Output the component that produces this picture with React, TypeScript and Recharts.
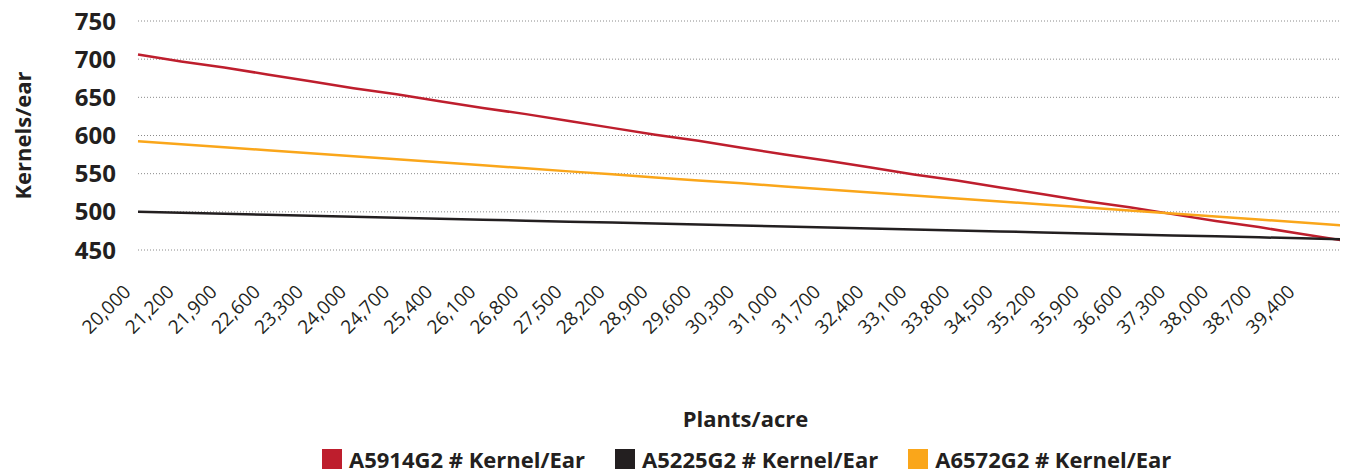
import { LineChart, Line, XAxis, YAxis, CartesianGrid, Legend } from "recharts";

// plants/acre categories; the last one has no label on the axis
const plants = [
  "20,000", "21,200", "21,900", "22,600", "23,300", "24,000", "24,700",
  "25,400", "26,100", "26,800", "27,500", "28,200", "28,900", "29,600",
  "30,300", "31,000", "31,700", "32,400", "33,100", "33,800", "34,500",
  "35,200", "35,900", "36,600", "37,300", "38,000", "38,700", "39,400",
  "40,100",
];
const shownTicks = plants.slice(0, 28);

const a5914 = [
  706, 697, 689, 680, 671, 662, 654, 645, 636, 628, 619, 610, 601, 593, 584,
  575, 567, 558, 549, 541, 532, 523, 514, 506, 497, 488, 480, 471, 462,
];
const a5225 = [
  500, 498.7, 497.4, 496.1, 494.9, 493.6, 492.3, 491, 489.7, 488.4, 487.1,
  485.9, 484.6, 483.3, 482, 480.7, 479.4, 478.1, 476.9, 475.6, 474.3, 473,
  471.7, 470.4, 469.1, 467.9, 466.6, 465.3, 464,
];
const a6572 = [
  592.5, 588.6, 584.6, 580.7, 576.7, 572.8, 568.8, 564.9, 560.9, 557, 553,
  549.1, 545.1, 541.2, 537.3, 533.3, 529.4, 525.4, 521.5, 517.5, 513.6, 509.6,
  505.7, 501.7, 497.8, 493.8, 489.9, 485.9, 482,
];

const yTicks = [450, 500, 550, 600, 650, 700, 750];

const series = [
  { key: "a5914", name: "A5914G2 # Kernel/Ear", color: "#be1e2d" },
  { key: "a5225", name: "A5225G2 # Kernel/Ear", color: "#231f20" },
  { key: "a6572", name: "A6572G2 # Kernel/Ear", color: "#faa61a" },
];

const data = plants.map((p, i) => ({
  plants: p,
  a5914: a5914[i],
  a5225: a5225[i],
  a6572: a6572[i],
}));

const ink = "#231f20";

function PlantTick({ x, y, payload }: any) {
  return (
    <g transform={`translate(${x - 6},${y + 43}) rotate(-45)`}>
      <text textAnchor="end" fill={ink} fontSize={19}>
        {payload.value}
      </text>
    </g>
  );
}

function LegendRow() {
  return (
    <div style={{ display: "flex", alignItems: "center", paddingLeft: 314, height: 26 }}>
      {series.map((s) => (
        <span key={s.key} style={{ display: "flex", alignItems: "center", marginRight: 30 }}>
          <span style={{ width: 20, height: 20, background: s.color, marginRight: 7 }} />
          <span style={{ fontWeight: 700, fontSize: 22, color: ink }}>{s.name}</span>
        </span>
      ))}
    </div>
  );
}

export default function App() {
  return (
    <div style={{ fontFamily: "'Open Sans', sans-serif" }}>
      <LineChart
        width={1340}
        height={464}
        data={data}
        margin={{ top: 13, right: 3, left: 0, bottom: 0 }}
        style={{ overflow: "visible" }}
      >
        <CartesianGrid vertical={false} stroke="#8a8a8a" strokeDasharray="1 2" />
        <XAxis
          dataKey="plants"
          ticks={shownTicks}
          interval={0}
          height={196}
          tickSize={0}
          tickMargin={0}
          axisLine={false}
          tickLine={false}
          tick={<PlantTick />}
          label={({ viewBox }: any) => (
            <text
              x={viewBox.x + viewBox.width / 2 + 4}
              y={viewBox.y + 168}
              textAnchor="middle"
              dominantBaseline="central"
              fontWeight={700}
              fontSize={22}
              fill={ink}
            >
              Plants/acre
            </text>
          )}
        />
        <YAxis
          width={130}
          domain={[450, 750]}
          ticks={yTicks}
          tickSize={0}
          tickMargin={22}
          axisLine={false}
          tickLine={false}
          tick={{ fill: ink, fontSize: 24, fontWeight: 700 }}
          label={({ viewBox }: any) => (
            <text
              transform={`translate(14,${viewBox.y + viewBox.height / 2}) rotate(-90)`}
              textAnchor="middle"
              dominantBaseline="central"
              fontWeight={700}
              fontSize={22}
              fill={ink}
            >
              Kernels/ear
            </text>
          )}
        />
        <Legend
          verticalAlign="bottom"
          content={<LegendRow />}
          wrapperStyle={{ left: 0, bottom: 0, width: 1340, height: 26 }}
        />
        {series.map((s) => (
          <Line
            key={s.key}
            type="linear"
            dataKey={s.key}
            name={s.name}
            stroke={s.color}
            strokeWidth={2.5}
            dot={false}
            activeDot={false}
            isAnimationActive={false}
          />
        ))}
      </LineChart>
    </div>
  );
}
